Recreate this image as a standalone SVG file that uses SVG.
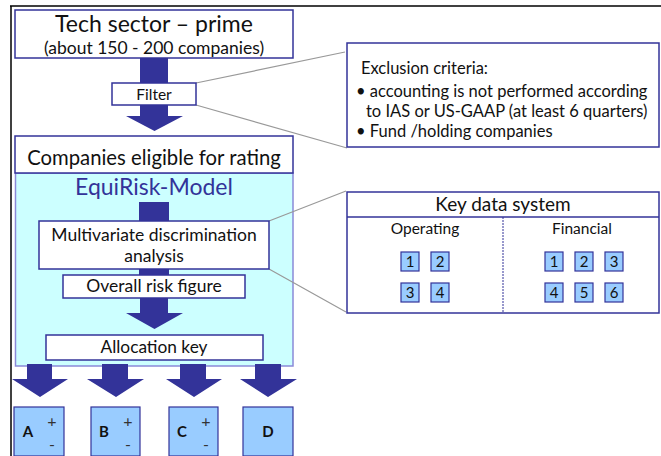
<svg xmlns="http://www.w3.org/2000/svg" width="661" height="456" viewBox="0 0 661 456">
<defs>
<style>
text{font-family:Lato,"Liberation Sans",sans-serif;fill:#111}
.box{fill:#fff;stroke:#333399;stroke-width:1.5}
.cyan{fill:#ccffff;stroke:#8a8ad8;stroke-width:1.5}
.sq{fill:#99ccff;stroke:#333399;stroke-width:1.2}
.arr{fill:#333399}
.call{stroke:#999;stroke-width:1.2;fill:none}
.c{text-anchor:middle}
.lt{font-size:17.5px}
.ex{font-size:16.5px}
.num{font-size:15px;text-anchor:middle}
.lab{font-size:15px;font-weight:bold;text-anchor:middle}
.pm{font-size:16px;text-anchor:middle;fill:#333}
</style>
</defs>
<rect width="661" height="456" fill="#fff"/>
<g id="frame" stroke="#000" stroke-width="1.5">
<line x1="10" y1="6" x2="661" y2="6"/>
<line x1="11" y1="6" x2="11" y2="456"/>
</g>
<g id="equirisk">
<rect class="cyan" x="15.5" y="173" width="277.5" height="193"/>
<text class="c" x="154" y="195" font-size="23" style="fill:#333399">EquiRisk-Model</text>
</g>
<g id="connectors">
<path class="arr" d="M140 58H168V116H183L154.5 131L126 116H140Z"/>
<rect class="arr" x="139" y="202" width="30" height="73"/>
<path class="arr" d="M140 297H168V313H183L154.5 329L126 313H140Z"/>
<path class="arr" d="M27 364H52V379H68L40 397L12 379H27Z"/>
<path class="arr" d="M102 364H128V379H144L116 397L87 379H102Z"/>
<path class="arr" d="M180 364H206V379H222L194 397L166 379H180Z"/>
<path class="arr" d="M255 364H281V379H297L268 397L240 379H255Z"/>
<path class="call" d="M196 83L345 52M196 105L347 148"/>
<path class="call" d="M269 221L346 191M269 269L346 312"/>
</g>
<g id="tech">
<rect class="box" x="15" y="10" width="278" height="48"/>
<text class="c" x="154" y="32" font-size="23">Tech sector – prime</text>
<text class="c" x="154" y="54" font-size="17.5">(about 150 - 200 companies)</text>
</g>
<g id="filter">
<rect class="box" x="112" y="83" width="84" height="22"/>
<text class="c" x="154" y="100" font-size="15.5">Filter</text>
</g>
<g id="exclusion">
<rect class="box" x="347" y="43" width="312" height="104"/>
<text class="ex" x="361" y="74">Exclusion criteria:</text>
<text class="ex" x="356" y="97">• accounting is not performed according</text>
<text class="ex" x="366" y="117">to IAS or US-GAAP (at least 6 quarters)</text>
<text class="ex" x="356" y="137">• Fund /holding companies</text>
</g>
<g id="eligible">
<rect class="box" x="15" y="136" width="278" height="37"/>
<text class="c" x="154" y="165" font-size="20.3">Companies eligible for rating</text>
</g>
<g id="mda">
<rect class="box" x="39" y="221" width="230" height="48"/>
<text class="c lt" x="154" y="241">Multivariate discrimination</text>
<text class="c lt" x="154" y="262">analysis</text>
</g>
<g id="risk">
<rect class="box" x="63" y="275" width="182" height="23"/>
<text class="c lt" x="154" y="292">Overall risk figure</text>
</g>
<g id="allocation">
<rect class="box" x="46" y="335" width="217" height="25"/>
<text class="c" x="154" y="353" font-size="17.3">Allocation key</text>
</g>
<g id="keydata">
<rect class="box" x="347" y="192" width="312" height="121"/>
<line x1="347" y1="217" x2="659" y2="217" stroke="#333399" stroke-width="1.5"/>
<line x1="503" y1="217" x2="503" y2="313" stroke="#333399" stroke-width="1" stroke-dasharray="2 1"/>
<text class="c" x="503" y="211" font-size="19">Key data system</text>
<text class="c" x="425" y="234" font-size="15.5">Operating</text>
<text class="c" x="582" y="234" font-size="15.5">Financial</text>
<rect class="sq" x="401" y="252" width="18" height="19"/><text class="num" x="410" y="267">1</text>
<rect class="sq" x="431" y="252" width="18" height="19"/><text class="num" x="440" y="267">2</text>
<rect class="sq" x="401" y="283" width="18" height="19"/><text class="num" x="410" y="298">3</text>
<rect class="sq" x="431" y="283" width="18" height="19"/><text class="num" x="440" y="298">4</text>
<rect class="sq" x="545" y="252" width="18" height="19"/><text class="num" x="554" y="267">1</text>
<rect class="sq" x="575" y="252" width="18" height="19"/><text class="num" x="584" y="267">2</text>
<rect class="sq" x="605" y="252" width="18" height="19"/><text class="num" x="614" y="267">3</text>
<rect class="sq" x="545" y="283" width="18" height="19"/><text class="num" x="554" y="298">4</text>
<rect class="sq" x="575" y="283" width="18" height="19"/><text class="num" x="584" y="298">5</text>
<rect class="sq" x="605" y="283" width="18" height="19"/><text class="num" x="614" y="298">6</text>
</g>
<g id="classA">
<rect class="sq" x="14" y="407" width="50" height="49"/>
<text class="lab" x="28" y="437">A</text>
<text class="pm" x="52" y="427">+</text>
<text class="pm" x="52" y="450">-</text>
</g>
<g id="classB">
<rect class="sq" x="91" y="407" width="49" height="49"/>
<text class="lab" x="104" y="437">B</text>
<text class="pm" x="128" y="427">+</text>
<text class="pm" x="128" y="450">-</text>
</g>
<g id="classC">
<rect class="sq" x="169" y="407" width="49" height="49"/>
<text class="lab" x="182" y="437">C</text>
<text class="pm" x="206" y="427">+</text>
<text class="pm" x="206" y="450">-</text>
</g>
<g id="classD">
<rect class="sq" x="243" y="407" width="50" height="49"/>
<text class="lab" x="268" y="437">D</text>
</g>
</svg>
